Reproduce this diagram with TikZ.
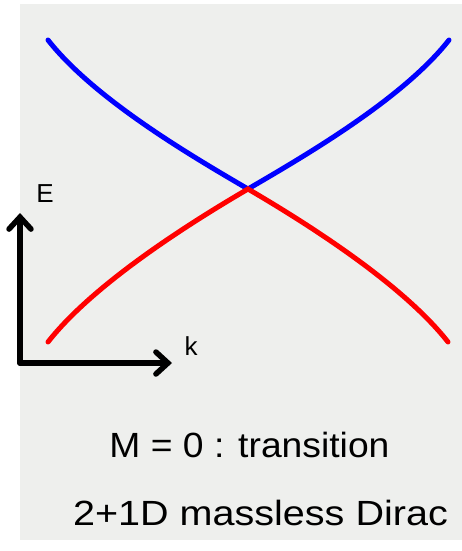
\documentclass[tikz,border=0pt]{standalone}
\usepackage{fontspec}
\setmainfont{Liberation Sans}
\usetikzlibrary{arrows.meta}
\definecolor{bggray}{HTML}{EEEFED}
\definecolor{bandblue}{HTML}{0000FF}
\definecolor{bandred}{HTML}{FF0000}
\tikzset{
  band/.style={line width=5pt, line cap=round},
  axis/.style={line width=5.5pt, -{Straight Barb[length=12pt,width=22pt,line cap=round]}, line cap=round},
  lbl/.style={inner sep=0pt, font=\fontsize{26}{26}\selectfont},
  caption/.style={inner sep=0pt, anchor=base, font=\fontsize{35}{35}\selectfont}
}
\begin{document}
\begin{tikzpicture}[x=1pt,y=-1pt]
\useasboundingbox (0,0) rectangle (462,551);
\fill[white] (0,0) rectangle (462,551);
\fill[bggray] (20,4) rectangle (462,540);
\coordinate (bl) at (48,40);
\coordinate (br) at (449,40);
\coordinate (rl) at (48,342);
\coordinate (rr) at (448,342);
\coordinate (x0) at (248,189);
\draw[band, bandblue] (bl) .. controls (95,100) and (195,158) .. (x0)
  .. controls (301,158) and (402,100) .. (br);
\draw[band, bandred] (rl) .. controls (95,282) and (195,220) .. (x0)
  .. controls (301,220) and (401,282) .. (rr);
\coordinate (o) at (20,363);
\coordinate (etip) at (20,213);
\coordinate (ktip) at (172,363);
\draw[axis] (o) -- (etip);
\draw[axis] (o) -- (ktip);
\node[lbl] (E) at (45,194) {E};
\node[lbl] (k) at (191,346) {k};
\node[caption] (t1) at (249.5,457.5) {\scalebox{1.065}[1]{M = 0 : transition}};
\node[caption] (t2) at (260.5,525) {\scalebox{1.13}[1]{2+1D massless Dirac}};
\end{tikzpicture}
\end{document}
